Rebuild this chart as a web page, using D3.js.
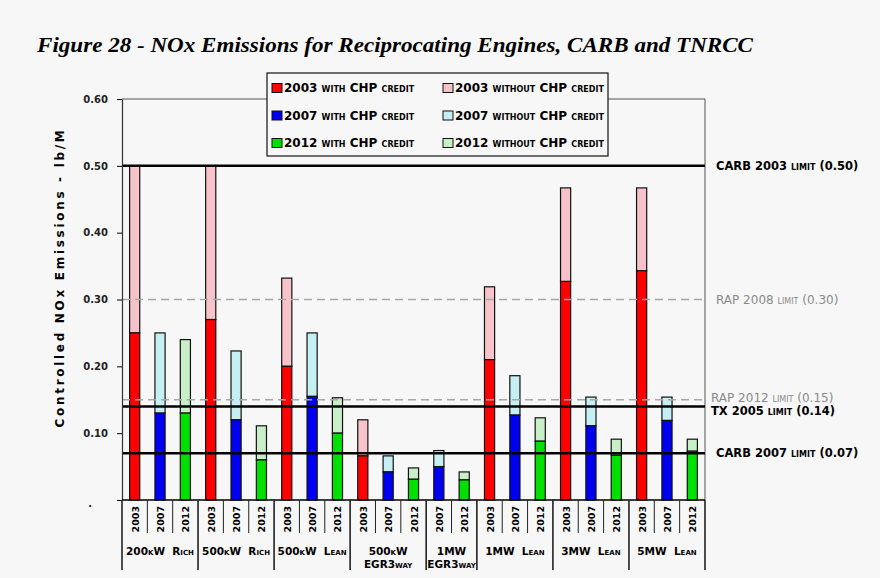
<!DOCTYPE html>
<html>
<head>
<meta charset="utf-8">
<script src="https://cdn.jsdelivr.net/npm/d3@7"></script>
<style>
  body { margin: 0; background: #f7f7f7; }
  svg { display: block; font-family: "DejaVu Sans", Verdana, sans-serif; }
</style>
</head>
<body>
<script>
// --- data ---
var groupLabels = [["200kW  Rich"], ["500kW  Rich"], ["500kW  Lean"], ["500kW", "EGR3way"],
                   ["1MW", "EGR3way"], ["1MW  Lean"], ["3MW  Lean"], ["5MW  Lean"]];
var slotGroup = [0, 0, 0, 1, 1, 1, 2, 2, 2, 3, 3, 3, 4, 4, 5, 5, 5, 6, 6, 6, 7, 7, 7];
var slotYear = ["2003", "2007", "2012", "2003", "2007", "2012", "2003", "2007", "2012",
                "2003", "2007", "2012", "2007", "2012", "2003", "2007", "2012",
                "2003", "2007", "2012", "2003", "2007", "2012"];
var withCredit = [0.25, 0.13, 0.13, 0.27, 0.12, 0.06, 0.20, 0.155, 0.10,
                  0.066, 0.042, 0.031, 0.05, 0.03, 0.21, 0.127, 0.088,
                  0.327, 0.111, 0.067, 0.343, 0.119, 0.073];
var withoutCredit = [0.50, 0.25, 0.24, 0.50, 0.223, 0.111, 0.332, 0.25, 0.153,
                     0.12, 0.066, 0.048, 0.074, 0.042, 0.319, 0.186, 0.123,
                     0.467, 0.154, 0.091, 0.467, 0.154, 0.091];
var yTicks = [0, 0.1, 0.2, 0.3, 0.4, 0.5, 0.6];
var limitValues = [0.50, 0.30, 0.15, 0.14, 0.07];
var limitLabels = ["CARB 2003 limit (0.50)", "RAP 2008 limit (0.30)", "RAP 2012 limit (0.15)",
                   "TX 2005 limit (0.14)", "CARB 2007 limit (0.07)"];
var limitDashed = [false, true, true, false, false];
var legendLabels = ["2003 with CHP credit", "2003 without CHP credit",
                    "2007 with CHP credit", "2007 without CHP credit",
                    "2012 with CHP credit", "2012 without CHP credit"];

var withColor = { "2003": "#ff0000", "2007": "#0000f0", "2012": "#00e000" };
var withoutColor = { "2003": "#f6c3cb", "2007": "#c6eff3", "2012": "#c9efc9" };

var W = 880, H = 578;
var margin = { top: 99, right: 175, bottom: 78, left: 122 },
    width = W - margin.left - margin.right,
    height = H - margin.top - margin.bottom;

var svg = d3.select("body").append("svg")
    .attr("width", W)
    .attr("height", H);

// title
svg.append("text")
    .attr("x", 37)
    .attr("y", 52)
    .attr("textLength", 716)
    .attr("lengthAdjust", "spacingAndGlyphs")
    .style("font", "italic bold 22px 'Liberation Serif', 'Times New Roman', serif")
    .text("Figure 28 - NOx Emissions for Reciprocating Engines, CARB and TNRCC");

var g = svg.append("g")
    .attr("transform", "translate(" + margin.left + "," + margin.top + ")");

var xScale = d3.scaleBand()
    .domain(d3.range(slotYear.length))
    .range([0, width])
    .paddingInner(0.6)
    .paddingOuter(0.3);
var step = xScale.step();
var edge = function (i) { return xScale(i) - step * 0.3; };

var yScale = d3.scaleLinear()
    .domain([0, 0.6])
    .range([height, 0]);

// plot frame (top and right)
g.append("path")
    .attr("d", "M0,0H" + width + "V" + height)
    .attr("fill", "none")
    .attr("stroke", "#555")
    .attr("stroke-width", 1);

// bars
var bars = g.selectAll(".bar")
    .data(slotYear.map(function (y, i) { return { i: i, year: y, lo: withCredit[i], hi: withoutCredit[i] }; }))
    .enter().append("g")
    .attr("class", "bar");
bars.append("rect")
    .attr("x", function (d) { return xScale(d.i); })
    .attr("width", xScale.bandwidth())
    .attr("y", function (d) { return yScale(d.hi); })
    .attr("height", function (d) { return yScale(d.lo) - yScale(d.hi); })
    .attr("fill", function (d) { return withoutColor[d.year]; })
    .attr("stroke", "#111")
    .attr("stroke-width", 1.2);
bars.append("rect")
    .attr("x", function (d) { return xScale(d.i); })
    .attr("width", xScale.bandwidth())
    .attr("y", function (d) { return yScale(d.lo); })
    .attr("height", function (d) { return yScale(0) - yScale(d.lo); })
    .attr("fill", function (d) { return withColor[d.year]; })
    .attr("stroke", "#111")
    .attr("stroke-width", 1.2);

// limit lines, drawn over the bars
var nudge = { 2: -2, 3: 5 };
var labelX = { 2: 6, 3: 6 };
limitValues.forEach(function (v, i) {
    g.append("line")
        .attr("x1", 0)
        .attr("x2", width)
        .attr("y1", yScale(v))
        .attr("y2", yScale(v))
        .attr("stroke", limitDashed[i] ? "#a8a8a8" : "#000")
        .attr("stroke-width", limitDashed[i] ? 1.5 : 2.5)
        .attr("stroke-dasharray", limitDashed[i] ? "8,5" : null);
    g.append("text")
        .attr("x", width + (labelX[i] || 11))
        .attr("y", yScale(v) + (nudge[i] || 0))
        .attr("dy", "0.35em")
        .style("font-size", limitDashed[i] ? "12px" : "11.5px")
        .style("font-weight", limitDashed[i] ? "normal" : "bold")
        .style("font-variant", "small-caps")
        .style("fill", limitDashed[i] ? "#8a8a8a" : "#000")
        .text(limitLabels[i]);
});

// y axis
var yAxis = g.append("g")
    .attr("class", "axes")
    .call(d3.axisLeft(yScale)
        .tickValues(yTicks)
        .tickSize(5)
        .tickSizeOuter(0)
        .tickPadding(9)
        .tickFormat(function (d) { return d === 0 ? "." : d3.format(".2f")(d); }));
yAxis.select(".domain").attr("stroke", "#333").attr("stroke-width", 1.2);
yAxis.selectAll("text")
    .style("font", "bold 10px 'DejaVu Sans', Verdana, sans-serif")
    .style("fill", "#222");
yAxis.selectAll(".tick").filter(function (d) { return d === 0; })
    .select("text").attr("x", -30).attr("dy", "0.6em");

// y label
g.append("text")
    .attr("transform", "translate(" + (-58) + "," + (height / 2 - 22) + ") rotate(-90)")
    .style("text-anchor", "middle")
    .style("font", "bold 12px 'DejaVu Sans', Verdana, sans-serif")
    .style("letter-spacing", "2.7px")
    .text("Controlled NOx Emissions - lb/M");

// x axis line
g.append("line")
    .attr("x1", 0).attr("x2", width)
    .attr("y1", height).attr("y2", height)
    .attr("stroke", "#000").attr("stroke-width", 1.5);

// separators between slots: long ones between groups, short ones inside
var isGroupEdge = function (i) {
    return i === 0 || i === slotYear.length || slotGroup[i] !== slotGroup[i - 1];
};
g.selectAll(".sep")
    .data(d3.range(slotYear.length + 1))
    .enter().append("line")
    .attr("class", "sep")
    .attr("x1", function (i) { return i === slotYear.length ? width : edge(i); })
    .attr("x2", function (i) { return i === slotYear.length ? width : edge(i); })
    .attr("y1", height)
    .attr("y2", function (i) { return height + (isGroupEdge(i) ? 70 : 33); })
    .attr("stroke", "#222")
    .attr("stroke-width", function (i) { return isGroupEdge(i) ? 1.6 : 1; });

// year labels
g.selectAll(".year")
    .data(slotYear)
    .enter().append("text")
    .attr("class", "year")
    .attr("transform", function (d, i) {
        return "translate(" + (xScale(i) + xScale.bandwidth() / 2 + 4) + "," + (height + 6) + ") rotate(-90)";
    })
    .style("text-anchor", "end")
    .style("font", "bold 9.5px 'DejaVu Sans', Verdana, sans-serif")
    .text(function (d) { return d; });

// group labels
groupLabels.forEach(function (lines, k) {
    var idx = slotGroup.map(function (gk, i) { return gk === k ? i : -1; }).filter(function (i) { return i >= 0; });
    var last = idx[idx.length - 1] + 1;
    var x0 = edge(idx[0]), x1 = last === slotYear.length ? width : edge(last);
    var t = g.append("text")
        .attr("x", (x0 + x1) / 2)
        .attr("y", height + 55)
        .style("text-anchor", "middle")
        .style("font", "bold 10.5px 'DejaVu Sans', Verdana, sans-serif")
        .style("font-variant", "small-caps")
        .style("white-space", "pre");
    lines.forEach(function (l, j) {
        t.append("tspan")
            .attr("x", (x0 + x1) / 2)
            .attr("dy", j === 0 ? 0 : 13)
            .text(l);
    });
});

// legend
var legend = svg.append("g")
    .attr("class", "legend")
    .attr("transform", "translate(267,73)");
legend.append("rect")
    .attr("width", 341)
    .attr("height", 83)
    .attr("fill", "#f7f7f7")
    .attr("stroke", "#111")
    .attr("stroke-width", 1.2);
var item = legend.selectAll(".item")
    .data(legendLabels)
    .enter().append("g")
    .attr("class", "item")
    .attr("transform", function (d, i) {
        return "translate(" + (i % 2 === 0 ? 5 : 176) + "," + (15 + Math.floor(i / 2) * 27.5) + ")";
    });
item.append("rect")
    .attr("x", 0).attr("y", -4.5)
    .attr("width", 10).attr("height", 9)
    .attr("fill", function (d, i) {
        var yr = d.slice(0, 4);
        return i % 2 === 0 ? withColor[yr] : withoutColor[yr];
    })
    .attr("stroke", "#111")
    .attr("stroke-width", 1);
item.append("text")
    .attr("x", 12)
    .attr("dy", "0.36em")
    .style("font", "bold 12px 'DejaVu Sans', Verdana, sans-serif")
    .style("font-variant", "small-caps")
    .text(function (d) { return d; });
</script>
</body>
</html>
